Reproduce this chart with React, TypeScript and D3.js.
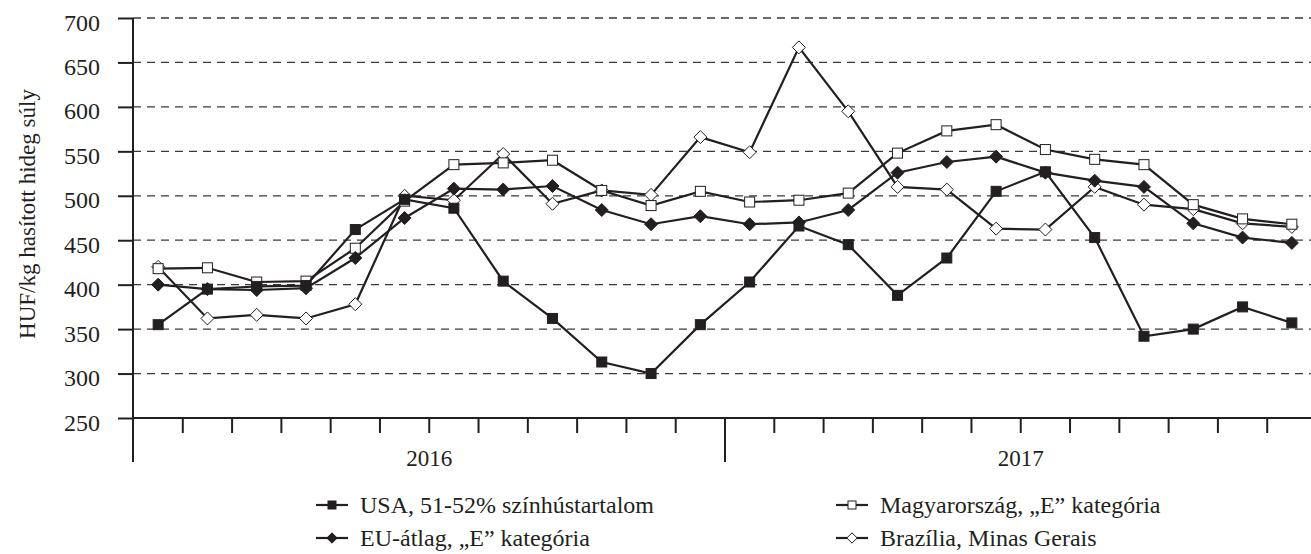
import { useEffect, useRef } from "react";
import * as d3 from "d3";

const months = [
  "2016-01", "2016-02", "2016-03", "2016-04", "2016-05", "2016-06",
  "2016-07", "2016-08", "2016-09", "2016-10", "2016-11", "2016-12",
  "2017-01", "2017-02", "2017-03", "2017-04", "2017-05", "2017-06",
  "2017-07", "2017-08", "2017-09", "2017-10", "2017-11", "2017-12",
];
const years = ["2016", "2017"];
const yTicks = [250, 300, 350, 400, 450, 500, 550, 600, 650, 700];

const usa = [355, 395, 398, 399, 462, 496, 486, 404, 362, 313, 300, 355,
  403, 466, 445, 388, 430, 505, 527, 453, 342, 350, 375, 357];
const hungary = [418, 419, 403, 404, 441, 494, 535, 537, 540, 506, 489, 505,
  493, 495, 503, 548, 573, 580, 552, 541, 535, 490, 474, 468];
const euAvg = [400, 395, 394, 396, 430, 475, 508, 507, 511, 484, 468, 477,
  468, 470, 484, 526, 538, 544, 526, 517, 510, 469, 453, 447];
const brazil = [420, 362, 366, 362, 378, 500, 495, 547, 491, 506, 501, 566,
  549, 667, 595, 510, 507, 463, 462, 510, 490, 485, 469, 465];

const seriesNames = [
  "USA, 51-52% színhústartalom",
  "Magyarország, „E” kategória",
  "EU-átlag, „E” kategória",
  "Brazília, Minas Gerais",
];

const App = () => {
  const svgRef = useRef<SVGSVGElement>(null);

  useEffect(() => {
    const W = 1311;
    const H = 554;
    const ink = "#231f20";
    const font = "'Liberation Serif', 'Times New Roman', serif";

    const svg = d3.select(svgRef.current);
    svg.selectAll("*").remove();
    svg.attr("width", W).attr("height", H);

    const x = d3.scaleBand<string>().domain(months).range([133.5, 1316.5]);
    const y = d3.scaleLinear().domain([250, 700]).range([418, 18]);
    const xc = (m: string) => (x(m) as number) + x.bandwidth() / 2;

    // rácsvonalak
    svg.append("g")
      .selectAll("line")
      .data(yTicks.filter(t => t > 250))
      .enter().append("line")
      .attr("x1", 133).attr("x2", W)
      .attr("y1", d => y(d)).attr("y2", d => y(d))
      .attr("stroke", "#3a3a3a")
      .attr("stroke-width", 1.3)
      .attr("stroke-dasharray", "8,6");

    // y tengely
    const yAxis = d3.axisLeft(y).tickValues(yTicks).tickSize(15).tickPadding(18);
    const gy = svg.append("g").attr("transform", "translate(133,0)").call(yAxis);
    gy.select(".domain").remove();
    gy.selectAll("line").attr("stroke", ink).attr("stroke-width", 2);
    gy.selectAll("text")
      .attr("fill", ink)
      .attr("dy", "0.5em")
      .style("font-family", font)
      .style("font-size", "24px");

    svg.append("line")
      .attr("x1", 133).attr("x2", 133).attr("y1", 18).attr("y2", 462)
      .attr("stroke", ink).attr("stroke-width", 2);

    // x tengely
    svg.append("line")
      .attr("x1", 133).attr("x2", W).attr("y1", 418).attr("y2", 418)
      .attr("stroke", ink).attr("stroke-width", 2);

    svg.append("g")
      .selectAll("line")
      .data(months.slice(1))
      .enter().append("line")
      .attr("x1", d => x(d) as number).attr("x2", d => x(d) as number)
      .attr("y1", 418)
      .attr("y2", (d, i) => (i === 11 ? 462 : 433))
      .attr("stroke", ink).attr("stroke-width", 2);

    svg.append("g")
      .selectAll("text")
      .data(years)
      .enter().append("text")
      .attr("x", (d, i) => (x(months[i * 12 + 6]) as number))
      .attr("y", 466)
      .attr("text-anchor", "middle")
      .attr("fill", ink)
      .style("font-family", font)
      .style("font-size", "23px")
      .text(d => d);

    // y felirat
    svg.append("text")
      .attr("transform", "translate(35,214) rotate(-90)")
      .attr("text-anchor", "middle")
      .attr("fill", ink)
      .style("font-family", font)
      .style("font-size", "23px")
      .text("HUF/kg hasított hideg súly");

    const drawMarker = (g: any, type: string, cx: number, cy: number, s = 1) => {
      if (type === "square" || type === "squareOpen") {
        const h = 5 * s;
        g.append("rect")
          .attr("x", cx - h).attr("y", cy - h)
          .attr("width", 2 * h).attr("height", 2 * h)
          .attr("fill", type === "square" ? ink : "#fff")
          .attr("stroke", ink).attr("stroke-width", 1);
      } else {
        const r = 6.5 * s;
        g.append("path")
          .attr("d", `M${cx},${cy - r}L${cx + r},${cy}L${cx},${cy + r}L${cx - r},${cy}Z`)
          .attr("fill", type === "diamond" ? ink : "#fff")
          .attr("stroke", ink).attr("stroke-width", 1);
      }
    };

    const series = [
      { name: seriesNames[3], values: brazil, marker: "diamondOpen" },
      { name: seriesNames[1], values: hungary, marker: "squareOpen" },
      { name: seriesNames[2], values: euAvg, marker: "diamond" },
      { name: seriesNames[0], values: usa, marker: "square" },
    ];

    const line = d3.line<number>()
      .x((d, i) => xc(months[i]))
      .y(d => y(d));

    series.forEach(s => {
      const g = svg.append("g");
      g.append("path")
        .datum(s.values)
        .attr("fill", "none")
        .attr("stroke", ink)
        .attr("stroke-width", 2.2)
        .attr("d", line);
      s.values.forEach((v, i) => drawMarker(g, s.marker, xc(months[i]), y(v)));
    });

    // jelmagyarázat
    const legendItems = [
      { name: seriesNames[0], marker: "square", lx: 332, ly: 505 },
      { name: seriesNames[1], marker: "squareOpen", lx: 852, ly: 505 },
      { name: seriesNames[2], marker: "diamond", lx: 332, ly: 538 },
      { name: seriesNames[3], marker: "diamondOpen", lx: 852, ly: 538 },
    ];
    legendItems.forEach(it => {
      const g = svg.append("g");
      g.append("line")
        .attr("x1", it.lx - 16).attr("x2", it.lx + 16)
        .attr("y1", it.ly).attr("y2", it.ly)
        .attr("stroke", ink).attr("stroke-width", 2.2);
      drawMarker(g, it.marker, it.lx, it.ly, 0.8);
      g.append("text")
        .attr("x", it.lx + 28)
        .attr("y", it.ly)
        .attr("dy", "0.35em")
        .attr("fill", ink)
        .style("font-family", font)
        .style("font-size", "24px")
        .text(it.name);
    });
  }, []);

  return (
    <svg ref={svgRef} style={{ position: "absolute", left: 0, top: 0, background: "#fff" }}></svg>
  );
};

export default App;
